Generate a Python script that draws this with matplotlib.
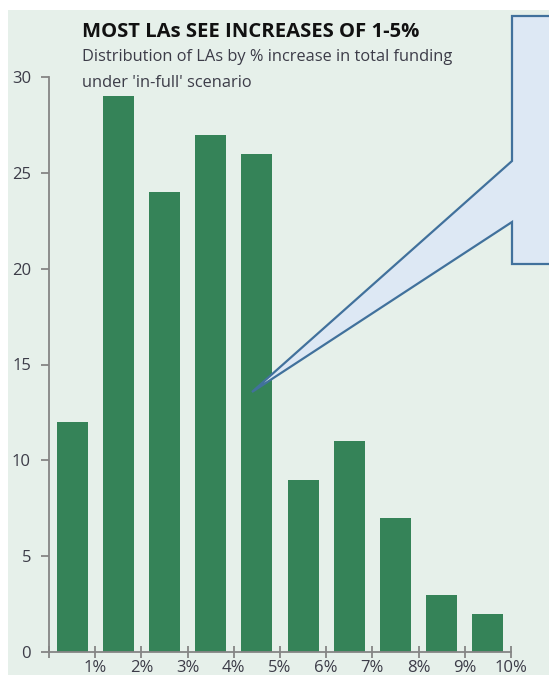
import matplotlib
matplotlib.use("Agg")
from matplotlib import pyplot as plt
from matplotlib.patches import Rectangle, Polygon

# counts of LAs per % increase band
bands = ["0-1%", "1-2%", "2-3%", "3-4%", "4-5%", "5-6%", "6-7%", "7-8%", "8-9%", "9-10%"]
counts = [12, 29, 24, 27, 26, 9, 11, 7, 3, 2]
tick_labels = ["", "1%", "2%", "3%", "4%", "5%", "6%", "7%", "8%", "9%", "10%"]

W, H = 549, 675
BG = "#e6f0ea"
BAR = "#358358"
AXC = "#858585"
TXT = "#3c3c48"

plt.rcParams["font.family"] = ["Open Sans", "DejaVu Sans"]

fig = plt.figure(figsize=(W / 100, H / 100), dpi=100)


def fx(px):
    return px / W


def fy(py):
    return 1 - py / H


# light green panel
fig.patches.append(Rectangle((fx(8), 0), 1, fy(10), transform=fig.transFigure,
                             facecolor=BG, edgecolor="none", zorder=-1))

ax = fig.add_axes([fx(49), fy(652), fx(511) - fx(49), fy(77) - fy(652)])
ax.set_zorder(1)
ax.set_facecolor("none")

x = [i + 0.5 for i in range(len(counts))]
ax.bar(x, counts, width=0.67, color=BAR, zorder=2)

ax.set_xlim(0, 10)
ax.set_ylim(0, 30)
ax.set_xticks(range(11))
ax.set_xticklabels(tick_labels)
ax.set_yticks(range(0, 31, 5))

for s in ["top", "right"]:
    ax.spines[s].set_visible(False)
for s in ["left", "bottom"]:
    ax.spines[s].set_color(AXC)
    ax.spines[s].set_linewidth(1.3)

ax.tick_params(axis="x", direction="inout", length=9, width=1.3, color=AXC,
               labelsize=12, labelcolor=TXT, pad=1.5)
ax.tick_params(axis="y", direction="out", length=6, width=1.3, color=AXC,
               labelsize=12, labelcolor=TXT, pad=7)

fig.text(fx(82), fy(37), "MOST LAs SEE INCREASES OF 1-5%", fontsize=14.6,
         fontweight="bold", color="#111111", va="baseline")
fig.text(fx(82), fy(61), "Distribution of LAs by % increase in total funding",
         fontsize=11.8, color=TXT, va="baseline")
fig.text(fx(82), fy(87), "under 'in-full' scenario",
         fontsize=11.8, color=TXT, va="baseline")

# callout box
pts = [(512, 16), (570, 16), (570, 264), (512, 264), (512, 222), (252, 392), (512, 161)]
fig.patches.append(Polygon([(fx(a), fy(b)) for a, b in pts], closed=True,
                           transform=fig.transFigure, facecolor="#dde8f4",
                           edgecolor="#41719c", linewidth=1.6, zorder=5))

fig.savefig("out.png", dpi=100, facecolor="white")
